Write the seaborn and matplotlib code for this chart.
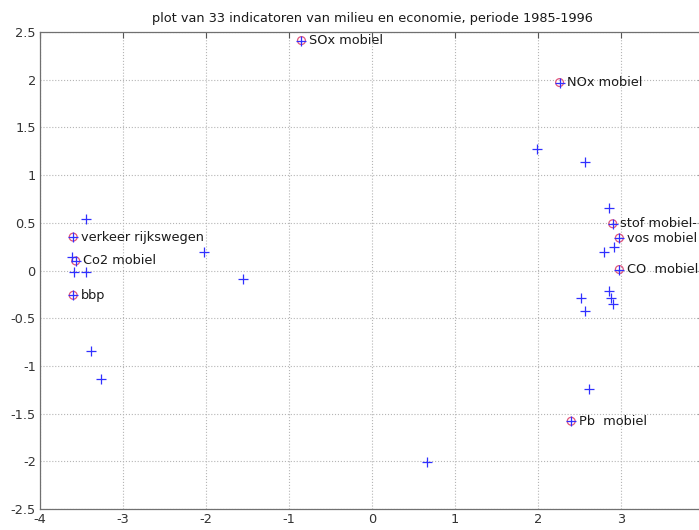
import numpy as np
import pandas as pd
import matplotlib
matplotlib.use("Agg")
import matplotlib.pyplot as plt
import seaborn as sns

# Indicators that carry a name in the plot
label_names = ["SOx mobiel", "NOx mobiel", "verkeer rijkswegen", "Co2 mobiel", "bbp",
               "stof mobiel-", "vos mobiel", "CO  mobiel", "Pb  mobiel"]
label_x = [-0.85, 2.26, -3.60, -3.57, -3.60, 2.90, 2.98, 2.98, 2.40]
label_y = [2.41, 1.97, 0.35, 0.10, -0.26, 0.49, 0.34, 0.01, -1.58]

# Remaining indicators (unnamed)
other_x = [-3.45, -3.61, -3.59, -3.45, -2.02, -1.55, -3.39, -3.27,
           1.99, 2.57, 2.86, 2.91, 2.79, 2.86, 2.52, 2.88, 2.90, 2.57, 2.62, 0.66]
other_y = [0.54, 0.145, -0.02, -0.02, 0.19, -0.09, -0.84, -1.14,
           1.27, 1.14, 0.65, 0.25, 0.19, -0.21, -0.29, -0.29, -0.35, -0.42, -1.24, -2.01]

x_ticks = [-4, -3, -2, -1, 0, 1, 2, 3, 4]
y_ticks = [-2.5, -2, -1.5, -1, -0.5, 0, 0.5, 1, 1.5, 2, 2.5]
title = "plot van 33 indicatoren van milieu en economie, periode 1985-1996"

sns.set_style("white")
plt.rcParams["font.family"] = ["DejaVu Sans"]
plt.rcParams["axes.unicode_minus"] = False

all_pts = pd.DataFrame({"x": label_x + other_x, "y": label_y + other_y})
named = pd.DataFrame({"x": label_x, "y": label_y, "name": label_names})

fig = plt.figure(figsize=(6.99, 5.30), dpi=100)
ax = fig.add_axes([40 / 699, 21 / 530, 664 / 699, 477 / 530])

# circles around the named indicators
sns.scatterplot(data=named, x="x", y="y", marker="o", s=32, facecolor="none",
                edgecolor="#e2567c", linewidth=0.9, ax=ax, zorder=3)
# all indicators as plus signs
sns.scatterplot(data=all_pts, x="x", y="y", marker="+", s=50, color="#3030ff",
                linewidth=0.9, ax=ax, zorder=4)

for _, r in named.iterrows():
    ax.annotate(r["name"], (r["x"], r["y"]), xytext=(5.5, 0), textcoords="offset points",
                va="center", ha="left", fontsize=9.3, color="#1a1a1a",
                annotation_clip=False)

ax.set_xlim(-4, 4)
ax.set_ylim(-2.5, 2.5)
ax.set_xticks(x_ticks)
ax.set_yticks(y_ticks)
ax.set_xticklabels([f"{v:g}" for v in x_ticks])
ax.set_yticklabels([f"{v:g}" for v in y_ticks])
ax.set_xlabel("")
ax.set_ylabel("")
ax.tick_params(direction="in", length=4, width=0.8, colors="#555555",
               labelcolor="#333333", labelsize=9.3, top=True, right=True, pad=3)
ax.grid(True, linestyle=":", color="#b5b5b5", linewidth=0.8)
for s in ax.spines.values():
    s.set_color("#707070")
    s.set_linewidth(0.9)
ax.set_title(title, fontsize=9.3, color="#1a1a1a", pad=7)

fig.savefig("out.png", dpi=100)
